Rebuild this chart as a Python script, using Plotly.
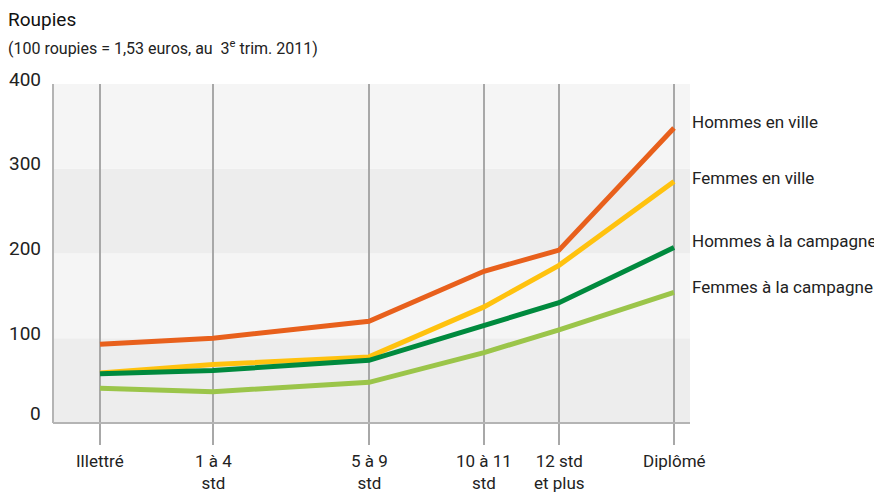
import plotly.graph_objects as go

categories = ["Illettré", "1 à 4<br>std", "5 à 9<br>std", "10 à 11<br>std", "12 std<br>et plus", "Diplômé"]
# uneven category spacing along the axis (as in the original)
cat_pos = [0, 113, 269, 384, 459, 574]

series_names = ["Hommes en ville", "Femmes en ville", "Hommes à la campagne", "Femmes à la campagne"]
hommes_ville = [93, 100, 120, 179, 204, 348]
femmes_ville = [59, 69, 78, 137, 186, 285]
hommes_campagne = [58, 62, 74, 115, 142, 207]
femmes_campagne = [41, 37, 48, 83, 110, 154]
label_y = [355, 289, 215, 160]

y_ticks = [0, 100, 200, 300, 400]

colors = ["#E8601C", "#FFC20E", "#008A3E", "#9BC54A"]
series = [hommes_ville, femmes_ville, hommes_campagne, femmes_campagne]

FONT = "Roboto, Liberation Sans, sans-serif"

fig = go.Figure()
for name, vals, col in zip(series_names, series, colors):
    fig.add_trace(go.Scatter(x=cat_pos, y=vals, mode="lines", name=name,
                             line=dict(color=col, width=5), showlegend=False))

shapes = []
# background bands
for i in range(len(y_ticks) - 1):
    shapes.append(dict(type="rect", xref="paper", yref="y", x0=0, x1=1,
                       y0=y_ticks[i], y1=y_ticks[i + 1],
                       fillcolor="#EDEDED" if i % 2 == 0 else "#F5F5F5",
                       line=dict(width=0), layer="below"))
# vertical category lines
for p in cat_pos:
    shapes.append(dict(type="line", xref="x", yref="paper", x0=p, x1=p, y0=-0.065, y1=1,
                       line=dict(color="#A8A8A8", width=2), layer="below"))
# axis lines
shapes.append(dict(type="line", xref="paper", yref="paper", x0=0, x1=0, y0=0, y1=1,
                   line=dict(color="#B4B4B4", width=2)))
shapes.append(dict(type="line", xref="paper", yref="paper", x0=0, x1=1, y0=0, y1=0,
                   line=dict(color="#B4B4B4", width=2)))

annotations = []
for t in y_ticks:
    annotations.append(dict(text=str(t), xref="paper", yref="y", x=0, y=t, xanchor="right",
                            yanchor="middle", xshift=-10, yshift=5 if t else 10, showarrow=False,
                            font=dict(family=FONT, size=19, color="#222222")))
for c, p in zip(categories, cat_pos):
    annotations.append(dict(text=c, xref="x", yref="paper", x=p, y=0, xanchor="center",
                            yanchor="top", yshift=-26, showarrow=False,
                            font=dict(family=FONT, size=17, color="#222222")))
for name, ly in zip(series_names, label_y):
    annotations.append(dict(text=name, xref="paper", yref="y", x=1, y=ly, xanchor="left",
                            yanchor="middle", xshift=0, showarrow=False,
                            font=dict(family=FONT, size=17, color="#222222")))
annotations.append(dict(text="Roupies", xref="paper", yref="paper", x=-47 / 637, y=1,
                        xanchor="left", yanchor="middle", yshift=84 - 19, showarrow=False,
                        font=dict(family=FONT, size=19, color="#111111")))
annotations.append(dict(text="(100 roupies = 1,53 euros, au  3<sup>e</sup> trim. 2011)", xref="paper",
                        yref="paper", x=-47 / 637, y=1, xanchor="left", yanchor="middle",
                        yshift=84 - 47, showarrow=False,
                        font=dict(family=FONT, size=16, color="#222222")))

fig.update_layout(
    width=874, height=486,
    margin=dict(l=45, r=192, t=76, b=71),
    paper_bgcolor="white", plot_bgcolor="white",
    xaxis=dict(range=[-47, 590], showgrid=False, zeroline=False, showticklabels=False,
               ticks="", fixedrange=True),
    yaxis=dict(range=[0, 400], showgrid=False, zeroline=False, showticklabels=False,
               ticks="", fixedrange=True),
    shapes=shapes, annotations=annotations,
)

fig.write_html("out.html")
